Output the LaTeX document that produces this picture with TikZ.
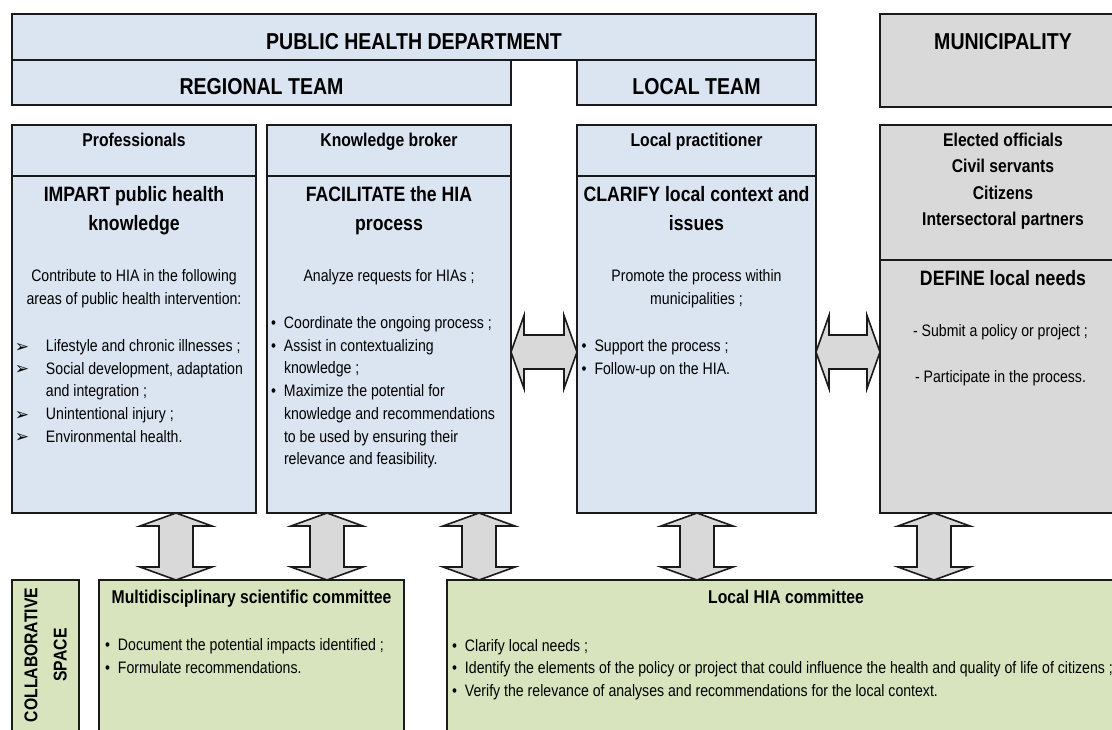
\documentclass[tikz,border=0pt]{standalone}
\usepackage{fontspec}
\setmainfont{Liberation Sans}[FakeStretch=0.85]
\newfontfamily\dingfont{DejaVu Sans}
\usetikzlibrary{calc}
\definecolor{bluef}{HTML}{DBE5F1}
\definecolor{grayf}{HTML}{D9D9D9}
\definecolor{greenf}{HTML}{D7E4BD}
\definecolor{linec}{HTML}{1A1A1A}
\tikzset{
  box/.style={draw=linec, line width=1.6pt, inner sep=0pt, outer sep=0pt, anchor=north west},
  bigarr/.style={draw=linec, line width=1.6pt, fill=grayf, line join=miter},
  hfont/.style={font=\fontsize{23}{27}\selectfont\bfseries},
  rfont/.style={font=\fontsize{18.5}{26.5}\selectfont\bfseries},
  cfont/.style={font=\fontsize{18.5}{29.4}\selectfont\bfseries},
  afont/.style={font=\fontsize{20.8}{28.3}\selectfont\bfseries},
  bfont/.style={font=\fontsize{16.6}{22.7}\selectfont},
  txt/.style={inner sep=0pt, outer sep=0pt, anchor=base},
  lst/.style={inner sep=0pt, outer sep=0pt, anchor=base west, font=\fontsize{16.6}{22.7}\selectfont},
}
\newcommand\HArr[3]{%
  \draw[bigarr] let \p1=(#1.east), \p2=(#2.west) in
    (\x1,-#3pt) -- (\x1+13pt,-#3pt+36.5pt) -- (\x1+13pt,-#3pt+17pt) -- (\x2-13pt,-#3pt+17pt)
    -- (\x2-13pt,-#3pt+36.5pt) -- (\x2,-#3pt) -- (\x2-13pt,-#3pt-36.5pt) -- (\x2-13pt,-#3pt-17pt)
    -- (\x1+13pt,-#3pt-17pt) -- (\x1+13pt,-#3pt-36.5pt) -- cycle;}
\newcommand\VArr[3]{%
  \draw[bigarr] let \p1=(#2.south), \p2=(#3.north) in
    (#1pt,\y1) -- (#1pt+36pt,\y1-13pt) -- (#1pt+17pt,\y1-13pt) -- (#1pt+17pt,\y2+13pt)
    -- (#1pt+36pt,\y2+13pt) -- (#1pt,\y2) -- (#1pt-36pt,\y2+13pt) -- (#1pt-17pt,\y2+13pt)
    -- (#1pt-17pt,\y1-13pt) -- (#1pt-36pt,\y1-13pt) -- cycle;}
\newcommand\arw{\makebox[31pt][l]{\raisebox{-0.5pt}{\dingfont\fontsize{17}{17}\selectfont ➢}}}
\newcommand\arwi{\hspace*{31pt}}
\newcommand\bul{\makebox[13pt][l]{•}}
\newcommand\buli{\hspace*{13pt}}
\begin{document}
\begin{tikzpicture}[x=1pt,y=-1pt]
\useasboundingbox (0,0) rectangle (1112,729);
\clip (0,0) rectangle (1112,729);
% top headers
\node[box, fill=bluef, minimum width=804pt, minimum height=46pt] (phd) at (12,14) {};
\node[box, fill=bluef, minimum width=499pt, minimum height=45pt] (reg) at (12,60) {};
\node[box, fill=bluef, minimum width=239pt, minimum height=45pt] (loc) at (577,60) {};
\node[box, fill=grayf, minimum width=246pt, minimum height=93pt] (mun) at (880,14) {};
% columns
\node[box, fill=bluef, minimum width=244pt, minimum height=51pt] (profh) at (12,125) {};
\node[box, fill=bluef, minimum width=244pt, minimum height=337pt] (profb) at (12,176) {};
\node[box, fill=bluef, minimum width=244pt, minimum height=51pt] (kbh) at (267,125) {};
\node[box, fill=bluef, minimum width=244pt, minimum height=337pt] (kbb) at (267,176) {};
\node[box, fill=bluef, minimum width=239pt, minimum height=51pt] (lph) at (577,125) {};
\node[box, fill=bluef, minimum width=239pt, minimum height=337pt] (lpb) at (577,176) {};
\node[box, fill=grayf, minimum width=246pt, minimum height=135pt] (munh) at (880,125) {};
\node[box, fill=grayf, minimum width=246pt, minimum height=253pt] (munb) at (880,260) {};
% bottom
\node[box, fill=greenf, minimum width=67pt, minimum height=165pt] (collab) at (12,580) {};
\node[box, fill=greenf, minimum width=305pt, minimum height=165pt] (msc) at (99,580) {};
\node[box, fill=greenf, minimum width=679pt, minimum height=165pt] (lhia) at (447,580) {};
% arrows
\HArr{kbb}{lpb}{352}
\HArr{lpb}{munb}{352}
\VArr{176}{profb}{msc}
\VArr{327}{kbb}{msc}
\VArr{479}{kbb}{lhia}
\VArr{697}{lpb}{lhia}
\VArr{934}{munb}{lhia}
% header texts
\node[txt, hfont] (tphd) at (414,49.3) {PUBLIC HEALTH DEPARTMENT};
\node[txt, hfont] (treg) at (261.5,94) {REGIONAL TEAM};
\node[txt, hfont] (tloc) at (696.5,94) {LOCAL TEAM};
\node[txt, hfont] (tmun) at (1003,49.3) {MUNICIPALITY};
% role texts
\node[txt, rfont] (tprof) at (134,146) {Professionals};
\node[txt, rfont] (tkb) at (389,146) {Knowledge broker};
\node[txt, rfont] (tlp) at (696.5,146) {Local practitioner};
\node[txt, rfont] (tmunr) at (1003,146) {\parbox[t]{240pt}{\centering Elected officials\\Civil servants\\Citizens\\Intersectoral partners}};
% action titles
\node[txt, afont] (aprof) at (134,201.7) {\parbox[t]{240pt}{\centering IMPART public health\\knowledge}};
\node[txt, afont] (akb) at (389,201.7) {\parbox[t]{240pt}{\centering FACILITATE the HIA\\process}};
\node[txt, afont] (alp) at (696.5,201.7) {\parbox[t]{240pt}{\centering CLARIFY local context and\\issues}};
\node[txt, afont] (amun) at (1003,285) {DEFINE local needs};
% intro texts
\node[txt, bfont] (iprof) at (134,281.5) {\parbox[t]{240pt}{\centering Contribute to HIA in the following\\areas of public health intervention:}};
\node[txt, bfont] (ikb) at (389,281.5) {Analyze requests for HIAs ;};
\node[txt, bfont] (ilp) at (696.5,281.5) {\parbox[t]{240pt}{\centering Promote the process within\\municipalities ;}};
\node[txt, bfont] (imun1) at (1000.5,336) {- Submit a policy or project ;};
\node[txt, bfont] (imun2) at (1000.5,382) {- Participate in the process.};
% lists
\node[lst] (lprof) at (15,351.5) {\parbox[t]{300pt}{\raggedright
  \arw Lifestyle and chronic illnesses ;\\
  \arw Social development, adaptation\\
  \arwi and integration ;\\
  \arw Unintentional injury ;\\
  \arw Environmental health.}};
\node[lst] (lkb) at (271,328.5) {\parbox[t]{300pt}{\raggedright
  \bul Coordinate the ongoing process ;\\
  \bul Assist in contextualizing\\
  \buli knowledge ;\\
  \bul Maximize the potential for\\
  \buli knowledge and recommendations\\
  \buli to be used by ensuring their\\
  \buli relevance and feasibility.}};
\node[lst] (llp) at (581.5,351.5) {\parbox[t]{300pt}{\raggedright
  \bul Support the process ;\\
  \bul Follow-up on the HIA.}};
% bottom texts
\node[txt, cfont, rotate=90] (tcollab) at (37.3,655) {\parbox[t]{200pt}{\centering COLLABORATIVE\\SPACE}};
\node[txt, rfont] (tmsc) at (251.5,603) {Multidisciplinary scientific committee};
\node[lst] (lmsc) at (105,650.5) {\parbox[t]{300pt}{\raggedright
  \bul Document the potential impacts identified ;\\
  \bul Formulate recommendations.}};
\node[txt, rfont] (tlhia) at (786,603) {Local HIA committee};
\node[lst] (llhia) at (452,651) {\parbox[t]{700pt}{\raggedright
  \bul Clarify local needs ;\\
  \bul Identify the elements of the policy or project that could influence the health and quality of life of citizens ;\\
  \bul Verify the relevance of analyses and recommendations for the local context.}};
\end{tikzpicture}
\end{document}
